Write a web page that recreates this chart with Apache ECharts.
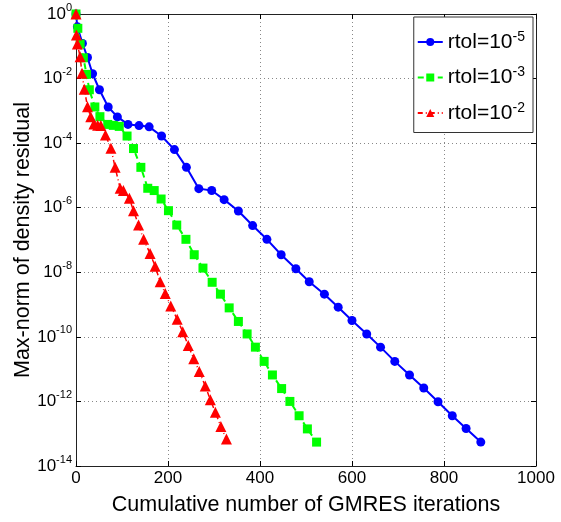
<!DOCTYPE html>
<html><head><meta charset="utf-8">
<script src="https://cdn.jsdelivr.net/npm/echarts@6/dist/echarts.min.js"></script>
<style>html,body{margin:0;padding:0;background:#fff}#c{width:561px;height:522px}</style>
</head><body><div id="c"></div>
<script>
// Cumulative GMRES iterations (x) and max-norm residual (y)
const blueX = [0,3,14,25,36,51,70,90,113,137,159,186,214,240,267,295,322,353,384,415,446,478,507,540,570,600,632,662,693,725,756,787,818,848,880];
const blueY = [1,0.4,0.123,4.5e-2,1.41e-2,4.5e-3,1.32e-3,6.5e-4,3.8e-4,3.5e-4,3.2e-4,1.66e-4,6.3e-5,1.78e-5,3.9e-6,3.4e-6,1.78e-6,7.9e-7,2.8e-7,1.05e-7,3.5e-8,1.29e-8,5.1e-9,2.1e-9,8.3e-10,3.2e-10,1.23e-10,4.8e-11,1.74e-11,6.6e-12,2.6e-12,9.8e-13,3.6e-13,1.45e-13,5.5e-14];
const greenX = [0,4,9,16,23,29,41,52,69,81,94,111,125,141,156,170,185,201,219,239,257,276,296,314,333,353,372,390,409,427,447,465,485,503,523];
const greenY = [1,0.36,0.117,4.4e-2,1.35e-2,4.5e-3,1.32e-3,6.6e-4,3.8e-4,3.55e-4,3.3e-4,1.66e-4,6.8e-5,1.78e-5,4.0e-6,3.4e-6,1.86e-6,8.1e-7,2.9e-7,1.05e-7,3.5e-8,1.35e-8,4.9e-9,2.1e-9,7.9e-10,3.0e-10,1.23e-10,4.8e-11,1.74e-11,6.6e-12,2.5e-12,1.0e-12,3.6e-13,1.41e-13,5.5e-14];
const redX = [0,1,3,9,13,18,25,32,39,47,54,64,76,85,96,103,116,125,136,147,161,172,183,194,206,220,232,244,256,268,281,292,303,315,327];
const redY = [1,0.224,0.117,4.7e-2,1.45e-2,4.7e-3,1.35e-3,6.6e-4,3.9e-4,3.6e-4,3.5e-4,1.78e-4,6.9e-5,1.78e-5,4.0e-6,3.4e-6,1.95e-6,8.1e-7,2.9e-7,1.05e-7,3.8e-8,1.55e-8,5.1e-9,2.2e-9,9.1e-10,3.5e-10,1.45e-10,5.4e-11,2.1e-11,8.5e-12,3.0e-12,1.12e-12,4.6e-13,1.66e-13,6.8e-14];
const seriesNames = ['rtol=10^-5','rtol=10^-3','rtol=10^-2'];
const legendExp = ['-5','-3','-2'];
const xTitle = 'Cumulative number of GMRES iterations';
const yTitle = 'Max-norm of density residual';

const zip = (xs, ys) => xs.map((x, i) => [x, ys[i]]);
const font = 'Liberation Sans, Arial, Helvetica, sans-serif';
const chart = echarts.init(document.getElementById('c'), null, {renderer: 'canvas'});
const grid = {left: 76, right: 25, top: 14, bottom: 56, containLabel: false, outerBoundsMode: 'none'};
const tickStyle = {show: true, inside: true, length: 5, lineStyle: {color: '#000', width: 1}};
const lineAx = {show: true, onZero: false, lineStyle: {color: '#222', width: 1}};
chart.setOption({
  animation: false,
  backgroundColor: '#fff',
  grid: grid,
  legend: {
    right: 28, top: 17, orient: 'vertical', itemGap: 13, itemWidth: 25, itemHeight: 10,
    backgroundColor: '#fff', borderColor: '#333', borderWidth: 1, padding: [13, 8, 9, 3],
    formatter: function (name) { const i = seriesNames.indexOf(name); return '{b|rtol=10}{s|' + legendExp[i] + '}'; },
    textStyle: {fontFamily: font, color: '#000', rich: {b: {fontSize: 21, fontFamily: font, lineHeight: 24}, s: {fontSize: 14, fontFamily: font, verticalAlign: 'top', lineHeight: 24}}}
  },
  xAxis: [{
    type: 'value', min: 0, max: 1000, interval: 200, position: 'bottom',
    axisLine: lineAx, axisTick: tickStyle,
    splitLine: {show: true, lineStyle: {color: '#888', type: [1, 3], width: 1}},
    axisLabel: {fontFamily: font, fontSize: 17, color: '#000', margin: 4, formatter: function (v) { return String(v); }},
    name: xTitle, nameLocation: 'middle', nameGap: 28, nameMoveOverlap: false,
    nameTextStyle: {fontFamily: font, fontSize: 21.5, color: '#000'}
  }, {
    type: 'value', min: 0, max: 1000, interval: 200, position: 'top',
    axisLine: lineAx, axisTick: tickStyle, axisLabel: {show: false}, splitLine: {show: false}
  }],
  yAxis: [{
    type: 'log', logBase: 10, min: 1e-14, max: 1, interval: 2, position: 'left',
    axisLine: lineAx, axisTick: tickStyle,
    splitLine: {show: true, lineStyle: {color: '#888', type: [1, 3], width: 1}},
    axisLabel: {
      color: '#000', margin: 4,
      formatter: function (v) { return '{b|10}{s|' + Math.round(Math.log10(v)) + '}'; },
      rich: {b: {fontSize: 17, fontFamily: font, lineHeight: 24}, s: {fontSize: 11, fontFamily: font, verticalAlign: 'top', lineHeight: 24}}
    },
    name: yTitle, nameLocation: 'middle', nameGap: 42, nameRotate: 90, nameMoveOverlap: false,
    nameTextStyle: {fontFamily: font, fontSize: 21.5, color: '#000'}
  }, {
    type: 'log', logBase: 10, min: 1e-14, max: 1, interval: 2, position: 'right',
    axisLine: lineAx, axisTick: tickStyle, axisLabel: {show: false}, splitLine: {show: false}
  }],
  series: [
    {name: seriesNames[0], type: 'line', data: zip(blueX, blueY), symbol: 'circle', symbolSize: 9,
     itemStyle: {color: '#0000ff'}, lineStyle: {color: '#0000ff', width: 2}},
    {name: seriesNames[1], type: 'line', data: zip(greenX, greenY), symbol: 'rect', symbolSize: 9,
     itemStyle: {color: '#00ff00'}, lineStyle: {color: '#00ff00', width: 2, type: [6, 4]}},
    {name: seriesNames[2], type: 'line', data: zip(redX, redY), symbol: 'triangle', symbolSize: 11,
     itemStyle: {color: '#ff0000'}, lineStyle: {color: '#ff0000', width: 1.5, type: [5, 3, 1, 3]}}
  ]
});
</script></body></html>
